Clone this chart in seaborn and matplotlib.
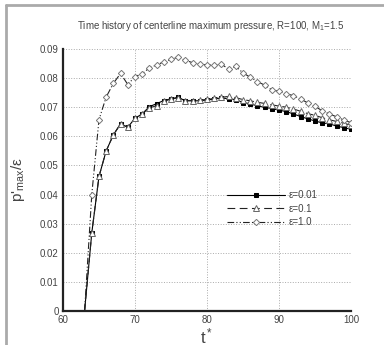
import seaborn as sns
import matplotlib.pyplot as plt
import pandas as pd
from matplotlib.lines import Line2D

# data
t = list(range(63, 101))
p_eps001 = [0.0, 0.0268, 0.0462, 0.0550, 0.0605, 0.0643, 0.0631, 0.0662, 0.0677, 0.0702,
            0.0712, 0.0723, 0.0729, 0.0734, 0.0722, 0.0722, 0.0722, 0.0725, 0.0728, 0.0732,
            0.0729, 0.0726, 0.0716, 0.0712, 0.0704, 0.0700, 0.0695, 0.0690, 0.0685, 0.0677,
            0.0668, 0.0660, 0.0653, 0.0646, 0.0643, 0.0635, 0.0630, 0.0624]
p_eps01 = [0.0, 0.0268, 0.0462, 0.0550, 0.0605, 0.0643, 0.0631, 0.0662, 0.0677, 0.0698,
           0.0705, 0.0720, 0.0728, 0.0732, 0.0723, 0.0723, 0.0724, 0.0727, 0.0730, 0.0734,
           0.0737, 0.0733, 0.0726, 0.0722, 0.0717, 0.0713, 0.0708, 0.0704, 0.0700, 0.0694,
           0.0686, 0.0678, 0.0672, 0.0664, 0.0657, 0.0651, 0.0645, 0.0638]
p_eps1 = [0.0, 0.0400, 0.0657, 0.0735, 0.0782, 0.0816, 0.0778, 0.0805, 0.0815, 0.0835,
          0.0845, 0.0856, 0.0864, 0.0872, 0.0861, 0.0853, 0.0847, 0.0846, 0.0844, 0.0848,
          0.0831, 0.0840, 0.0818, 0.0803, 0.0788, 0.0776, 0.0760, 0.0754, 0.0746, 0.0740,
          0.0728, 0.0715, 0.0703, 0.0688, 0.0677, 0.0667, 0.0656, 0.0647]
labels = ["ε=0.01", "ε=0.1", "ε=1.0"]
x_ticks = [60, 70, 80, 90, 100]
y_ticks = [0, 0.01, 0.02, 0.03, 0.04, 0.05, 0.06, 0.07, 0.08, 0.09]

sns.set_theme(style="white")
plt.rcParams['font.family'] = ['Liberation Sans', 'DejaVu Sans']
plt.rcParams['mathtext.fontset'] = 'custom'
plt.rcParams['mathtext.rm'] = 'Liberation Sans'
plt.rcParams['mathtext.it'] = 'Liberation Sans'

fig = plt.figure(figsize=(3.84, 3.45), dpi=100)
ax = fig.add_axes([0.164, 0.0986, 0.75, 0.7594])

df = pd.DataFrame({"t": t, "a": p_eps001, "b": p_eps01, "c": p_eps1})
mk = list(range(1, len(t)))

sns.lineplot(data=df, x="t", y="a", ax=ax, color="black", lw=0.8, ls="-",
             marker="s", ms=3.4, mfc="black", mec="black", markevery=mk, label=labels[0])
sns.lineplot(data=df, x="t", y="b", ax=ax, color="#222222", lw=0.8, ls=(0, (7, 4)),
             marker="^", ms=3.8, mfc="white", mec="#666666", mew=0.7, markevery=mk, label=labels[1])
sns.lineplot(data=df, x="t", y="c", ax=ax, color="#222222", lw=0.8, ls=(0, (6, 2, 1, 2, 1, 2)),
             marker="D", ms=3.2, mfc="white", mec="#777777", mew=0.7, markevery=mk, label=labels[2])

ax.set_xlim(60, 100)
ax.set_ylim(0, 0.09)
ax.set_xticks(x_ticks)
ax.set_yticks(y_ticks)
ax.set_xticks([65, 75, 85, 95], minor=True)
ax.set_yticks([i * 0.01 + 0.005 for i in range(9)], minor=True)
ax.set_xticklabels([str(v) for v in x_ticks])
ax.set_yticklabels(["0"] + ["%.2f" % v for v in y_ticks[1:]])
ax.tick_params(axis="both", which="major", direction="in", length=4, width=1.2,
               labelsize=7, colors="#222222", labelcolor="#444444", pad=3)
ax.tick_params(axis="both", which="minor", direction="in", length=3, width=0.8, colors="#222222")
ax.grid(True, which="major", ls=":", lw=0.7, color="#aaaaaa")

for s in ["top", "right"]:
    ax.spines[s].set_visible(False)
for s in ["left", "bottom"]:
    ax.spines[s].set_color("#222222")
    ax.spines[s].set_linewidth(1.6)

ax.set_xlabel(r"t$^*$", fontsize=12, color="#444444")
ax.xaxis.set_label_coords(0.5, -0.058)
ax.set_ylabel(r"p$'_{\rm max}$/ε", fontsize=11, color="#444444")
ax.yaxis.set_label_coords(-0.125, 0.5)

leg = ax.legend(loc="upper left", bbox_to_anchor=(0.57, 0.46), frameon=False,
                handlelength=6, handletextpad=0.3, borderpad=0, borderaxespad=0,
                labelspacing=0.35, fontsize=7)
for txt in leg.get_texts():
    txt.set_color("#444444")

fig.text(0.55, 0.925, r"Time history of centerline maximum pressure, R=100, M$_1$=1.5",
         ha="center", va="center", fontsize=7, color="#444444")

# gray frame remnants on the left and top
fig.add_artist(Line2D([0.015, 0.015], [0, 0.985], color="#aaaaaa", lw=2))
fig.add_artist(Line2D([0.015, 1.0], [0.985, 0.985], color="#aaaaaa", lw=2))

fig.savefig("out.png", dpi=100)
